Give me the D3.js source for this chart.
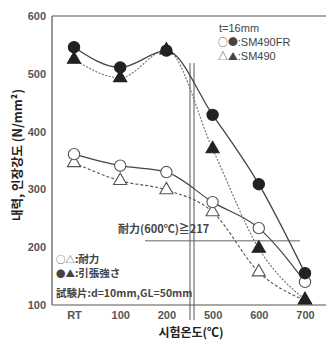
<!DOCTYPE html>
<html><head><meta charset="utf-8">
<script src="https://cdn.jsdelivr.net/npm/d3@7"></script>
<style>body{margin:0;background:#fff}svg{display:block}</style>
</head><body>
<svg id="c" width="327" height="340"></svg>
<script>
const categories = ["RT","100","200","500","600","700"];
const frTensile = [546, 511, 540, 429, 309, 155];
const smTensile = [525, 493, 541, 370, 198, 109];
const frYield   = [361, 341, 330, 278, 233, 140];
const smYield   = [346, 315, 299, 261, 157, 108];
const yTicks = [100, 200, 300, 400, 500, 600];
const refValue = 211;
const refLabel = "耐力(600℃)≧217";

(function () {
const svg = d3.select("#c");
const pLeft = 52, pRight = 326, pTop = 16, pBottom = 305;
const x = d3.scalePoint().domain(categories).range([74, 305]);
const y = d3.scaleLinear().domain([100, 600]).range([pBottom, pTop]);
const latin = "Liberation Sans, Arial, sans-serif";
const cjk = "Noto Sans CJK JP, sans-serif";

// frame
const frame = svg.append("g").attr("stroke", "#555").attr("stroke-width", 1.2).attr("fill", "none");
frame.append("line").attr("x1", pLeft).attr("x2", pLeft).attr("y1", pTop).attr("y2", pBottom);
frame.append("line").attr("x1", pLeft).attr("x2", pRight).attr("y1", pTop).attr("y2", pTop);
frame.append("line").attr("x1", pLeft).attr("x2", pRight).attr("y1", pBottom).attr("y2", pBottom);

// y axis labels
const yAxis = d3.axisLeft(y).tickValues(yTicks).tickSize(0).tickPadding(6);
const gy = svg.append("g").attr("transform", `translate(${pLeft},0)`).call(yAxis);
gy.select(".domain").remove();
gy.selectAll("text").attr("font-family", latin).attr("font-size", 11).attr("font-weight", "bold").attr("fill", "#555");

// x axis labels
const xAxis = d3.axisBottom(x).tickSize(0).tickPadding(6);
const gx = svg.append("g").attr("transform", `translate(0,${pBottom})`).call(xAxis);
gx.select(".domain").remove();
gx.selectAll("text").attr("font-family", latin).attr("font-size", 11).attr("font-weight", "bold").attr("fill", "#555");

// break lines
[190, 194].forEach(bx => {
  svg.append("line").attr("x1", bx).attr("x2", bx).attr("y1", 63).attr("y2", 320)
    .attr("stroke", "#555").attr("stroke-width", 1);
});

// reference line
svg.append("line").attr("x1", 145).attr("x2", 300).attr("y1", y(refValue)).attr("y2", y(refValue))
  .attr("stroke", "#666").attr("stroke-width", 1);
svg.append("text").attr("x", 118).attr("y", y(refValue) - 8).text(refLabel)
  .attr("font-family", cjk).attr("font-size", 11).attr("font-weight", "bold").attr("fill", "#444");

// lines
const line = d3.line().x((d, i) => x(categories[i])).y(d => y(d)).curve(d3.curveMonotoneX);
svg.append("path").datum(smTensile).attr("d", line).attr("fill", "none").attr("stroke", "#777").attr("stroke-width", 1.2).attr("stroke-dasharray", "2,1.5");
svg.append("path").datum(smYield).attr("d", line).attr("fill", "none").attr("stroke", "#555").attr("stroke-width", 1.1).attr("stroke-dasharray", "3,2");
svg.append("path").datum(frYield).attr("d", line).attr("fill", "none").attr("stroke", "#444").attr("stroke-width", 1.2);
svg.append("path").datum(frTensile).attr("d", line).attr("fill", "none").attr("stroke", "#444").attr("stroke-width", 1.3);

// markers
function markers(data, type, filled, size) {
  svg.append("g").selectAll("path").data(data).join("path")
    .attr("transform", (d, i) => `translate(${x(categories[i])},${y(d)})`)
    .attr("d", d3.symbol().type(type).size(size))
    .attr("fill", filled ? "#222" : "#fff")
    .attr("stroke", filled ? "#222" : "#555")
    .attr("stroke-width", 1.1);
}
markers(smYield, d3.symbolTriangle, false, 75);
markers(frYield, d3.symbolCircle, false, 100);
markers(frTensile, d3.symbolCircle, true, 100);
markers(smTensile, d3.symbolTriangle, true, 75);

// legend texts: symbol tspan + label tspan
function legend(tx, ty, symbols, label, size, labelFam, weight) {
  const t = svg.append("text").attr("x", tx).attr("y", ty).attr("fill", "#444").attr("font-size", size);
  t.append("tspan").attr("font-family", cjk).attr("font-size", size * 0.9).text(symbols);
  t.append("tspan").attr("font-family", labelFam).attr("font-weight", weight).text(label);
}
svg.append("text").attr("x", 219).attr("y", 32).text("t=16mm")
  .attr("font-family", latin).attr("font-size", 11).attr("fill", "#444");
legend(218, 46, "○●", ":SM490FR", 11, latin, "normal");
legend(218, 59.5, "△▲", ":SM490", 11, latin, "normal");
legend(56, 262.5, "○△", ":耐力", 10.5, cjk, "bold");
legend(56, 276.5, "●▲", ":引張強さ", 10.5, cjk, "bold");
svg.append("text").attr("x", 56).attr("y", 297).text("試験片:d=10mm,GL=50mm")
  .attr("font-family", cjk).attr("font-size", 10.5).attr("font-weight", "bold").attr("fill", "#444");

// axis titles
svg.append("text").attr("transform", "translate(22,155) rotate(-90)").attr("text-anchor", "middle")
  .text("내력, 인장강도 (N/mm²)").attr("font-family", "Noto Sans CJK KR, sans-serif")
  .attr("font-size", 12.5).attr("font-weight", "bold").attr("fill", "#222");
svg.append("text").attr("x", 191).attr("y", 337).attr("text-anchor", "middle")
  .text("시험온도(℃)").attr("font-family", "Noto Sans CJK KR, sans-serif")
  .attr("font-size", 12).attr("font-weight", "bold").attr("fill", "#222");
})();
</script>
</body></html>
